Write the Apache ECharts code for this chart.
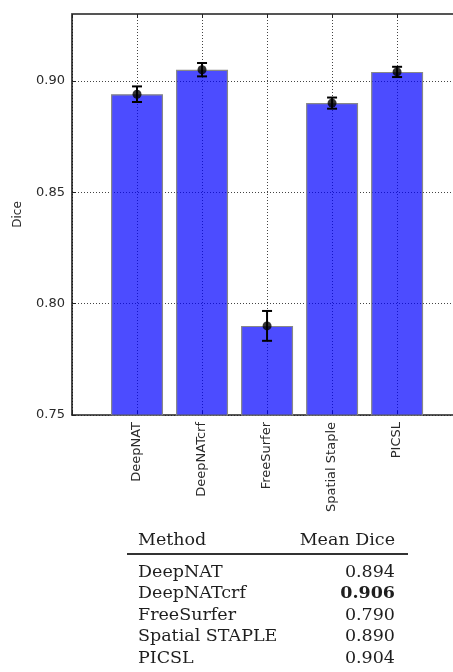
<!DOCTYPE html>
<html>
<head>
<meta charset="utf-8">
<script src="https://cdn.jsdelivr.net/npm/echarts@6/dist/echarts.min.js"></script>
<style>
  html, body { margin: 0; padding: 0; background: #fff; }
  #chart { width: 453px; height: 672px; }
</style>
</head>
<body>
<div id="chart"></div>
<script>
// values
const methods = ['DeepNAT', 'DeepNATcrf', 'FreeSurfer', 'Spatial Staple', 'PICSL'];
const meanDice = [0.894, 0.905, 0.790, 0.890, 0.904];
const diceErr = [0.0035, 0.003, 0.0067, 0.0025, 0.0023];
const yTicks = [0.75, 0.80, 0.85, 0.90];

// table under the plot
const tableMethods = ['DeepNAT', 'DeepNATcrf', 'FreeSurfer', 'Spatial STAPLE', 'PICSL'];
const tableDice = ['0.894', '0.906', '0.790', '0.890', '0.904'];

const chart = echarts.init(document.getElementById('chart'));

const barData = methods.map((m, i) => [i + 1, meanDice[i]]);
const errData = methods.map((m, i) => [i + 1, meanDice[i] - diceErr[i], meanDice[i] + diceErr[i]]);

// table as graphic text
const best = Math.max(...tableDice.map(Number));
const tableFont = '17.5px "DejaVu Serif", "Liberation Serif", serif';
const textCol = '#1e1e1e';
const rowY0 = 572, rowStep = 21.5;
const tableItems = [
  { type: 'text', x: 138, y: 540, style: { text: 'Method', font: tableFont, fill: textCol, textVerticalAlign: 'middle' } },
  { type: 'text', x: 395, y: 540, style: { text: 'Mean Dice', font: tableFont, fill: textCol, textAlign: 'right', textVerticalAlign: 'middle' } },
  { type: 'line', shape: { x1: 127, y1: 554, x2: 408, y2: 554 }, style: { stroke: '#333', lineWidth: 2 } }
];
tableMethods.forEach((m, i) => {
  const y = rowY0 + i * rowStep;
  tableItems.push({ type: 'text', x: 138, y: y, style: { text: m, font: tableFont, fill: textCol, textVerticalAlign: 'middle' } });
  const bold = Number(tableDice[i]) === best;
  tableItems.push({ type: 'text', x: 395, y: y, style: { text: tableDice[i], font: (bold ? 'bold ' : '') + tableFont, fill: textCol, textAlign: 'right', textVerticalAlign: 'middle' } });
});

const option = {
  animation: false,
  grid: { left: 72, top: 14, right: 0, bottom: 257 },
  xAxis: [{
    type: 'value', min: 0, max: 5.86, interval: 1,
    axisLine: { lineStyle: { color: '#222', width: 1.5 } },
    axisTick: { inside: true, length: 4, lineStyle: { color: '#222' } },
    splitLine: { show: true, lineStyle: { type: [1, 2], color: '#444', width: 1 } },
    axisLabel: {
      rotate: 90, margin: 7, color: '#2a2a2a', fontSize: 13, fontFamily: 'DejaVu Sans',
      showMaxLabel: false,
      formatter: v => methods[v - 1] || ''
    }
  }, {
    type: 'value', position: 'top', min: 0, max: 5.86, interval: 1,
    axisLine: { show: true, lineStyle: { color: '#555', width: 2 } },
    axisTick: { inside: true, length: 4, lineStyle: { color: '#222' } },
    splitLine: { show: false },
    axisLabel: { show: false }
  }],
  yAxis: {
    type: 'value', min: 0.75, max: 0.93, interval: 0.05,
    name: 'Dice', nameLocation: 'middle', nameRotate: 90, nameGap: 48,
    nameTextStyle: { fontSize: 12, color: '#2a2a2a', fontFamily: 'DejaVu Sans' },
    axisLine: { show: true, lineStyle: { color: '#111', width: 1.5 } },
    axisTick: { show: true, inside: true, length: 4, lineStyle: { color: '#222' } },
    splitLine: { show: true, lineStyle: { type: [1, 2], color: '#444', width: 1 } },
    axisLabel: {
      margin: 7, color: '#2a2a2a', fontSize: 13, fontFamily: 'DejaVu Sans',
      showMaxLabel: false,
      formatter: v => yTicks.some(t => Math.abs(t - v) < 1e-6) ? v.toFixed(2) : ''
    }
  },
  graphic: tableItems,
  series: [{
    type: 'bar',
    data: barData,
    barWidth: 52,
    itemStyle: { color: 'rgba(0,0,255,0.7)', borderColor: '#888', borderWidth: 1.2 },
    z: 2
  }, {
    type: 'custom',
    data: errData,
    z: 5,
    renderItem: (params, api) => {
      const x = api.value(0);
      const lo = api.coord([x, api.value(1)]);
      const hi = api.coord([x, api.value(2)]);
      const cap = 5;
      const st = { stroke: '#000', lineWidth: 2 };
      return {
        type: 'group',
        children: [
          { type: 'line', shape: { x1: lo[0], y1: lo[1], x2: hi[0], y2: hi[1] }, style: st },
          { type: 'line', shape: { x1: lo[0] - cap, y1: lo[1], x2: lo[0] + cap, y2: lo[1] }, style: st },
          { type: 'line', shape: { x1: hi[0] - cap, y1: hi[1], x2: hi[0] + cap, y2: hi[1] }, style: st }
        ]
      };
    }
  }, {
    type: 'scatter',
    data: barData,
    symbol: 'circle',
    symbolSize: 9,
    itemStyle: { color: '#000' },
    z: 6
  }]
};

chart.setOption(option);
</script>
</body>
</html>
